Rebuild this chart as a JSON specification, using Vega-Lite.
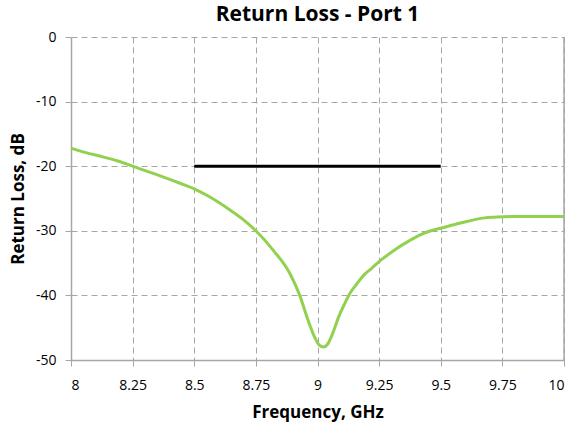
{
  "$schema": "https://vega.github.io/schema/vega-lite/v6.json",
  "width": 572,
  "height": 426,
  "autosize": {"type": "fit", "contains": "padding"},
  "padding": {"left": 9, "top": 4, "right": 2, "bottom": 6},
  "background": "white",
  "config": {
    "view": {"stroke": null},
    "font": "Open Sans",
    "axis": {
      "labelFont": "Open Sans",
      "labelFontSize": 14,
      "labelColor": "#000000",
      "titleFont": "Open Sans",
      "titleFontSize": 17,
      "titleFontWeight": "bold",
      "titleColor": "#000000",
      "domainColor": "#a6a6a6",
      "domainWidth": 1.5,
      "tickColor": "#a6a6a6",
      "tickSize": 6,
      "gridColor": "#a6a6a6",
      "gridDash": [6, 4],
      "gridWidth": 1
    }
  },
  "title": {
    "text": "Return Loss - Port 1",
    "font": "Open Sans",
    "fontSize": 21,
    "fontWeight": "bold",
    "color": "#000000",
    "offset": 5
  },
  "datasets": {
    "curve": [
      {"f": 8.0, "rl": -17.2},
      {"f": 8.06, "rl": -17.9},
      {"f": 8.124, "rl": -18.5},
      {"f": 8.19, "rl": -19.2},
      {"f": 8.25, "rl": -20.0},
      {"f": 8.31, "rl": -20.8},
      {"f": 8.37, "rl": -21.6},
      {"f": 8.44, "rl": -22.6},
      {"f": 8.5, "rl": -23.5},
      {"f": 8.56, "rl": -24.7},
      {"f": 8.642, "rl": -26.7},
      {"f": 8.7, "rl": -28.3},
      {"f": 8.75, "rl": -30.0},
      {"f": 8.82, "rl": -33.0},
      {"f": 8.888, "rl": -36.6},
      {"f": 8.928, "rl": -40.0},
      {"f": 8.962, "rl": -43.9},
      {"f": 8.99, "rl": -46.6},
      {"f": 9.005, "rl": -47.6},
      {"f": 9.024, "rl": -48.0},
      {"f": 9.04, "rl": -47.6},
      {"f": 9.055, "rl": -46.5},
      {"f": 9.07, "rl": -45.0},
      {"f": 9.085, "rl": -43.4},
      {"f": 9.11, "rl": -41.3},
      {"f": 9.133, "rl": -39.6},
      {"f": 9.16, "rl": -38.2},
      {"f": 9.187, "rl": -36.9},
      {"f": 9.22, "rl": -35.8},
      {"f": 9.249, "rl": -34.8},
      {"f": 9.29, "rl": -33.6},
      {"f": 9.323, "rl": -32.7},
      {"f": 9.37, "rl": -31.6},
      {"f": 9.419, "rl": -30.6},
      {"f": 9.46, "rl": -30.0},
      {"f": 9.5, "rl": -29.6},
      {"f": 9.58, "rl": -28.8},
      {"f": 9.678, "rl": -28.0},
      {"f": 9.72, "rl": -27.9},
      {"f": 9.787, "rl": -27.8},
      {"f": 9.9, "rl": -27.8},
      {"f": 10.0, "rl": -27.8}
    ],
    "spec": [
      {"f": 8.5, "rl": -20},
      {"f": 9.5, "rl": -20}
    ],
    "edge": [
      {"f": 10}
    ]
  },
  "layer": [
    {
      "data": {"name": "curve"},
      "mark": {"type": "line", "color": "#92d050", "strokeWidth": 3, "interpolate": "monotone"},
      "encoding": {
        "x": {
          "field": "f", "type": "quantitative",
          "scale": {"domain": [8, 10], "nice": false, "zero": false},
          "axis": {
            "title": "Frequency, GHz",
            "values": [8, 8.25, 8.5, 8.75, 9, 9.25, 9.5, 9.75, 10],
            "labelExpr": "datum.value + ''",
            "labelPadding": 12,
            "titlePadding": 12,
            "grid": true
          }
        },
        "y": {
          "field": "rl", "type": "quantitative",
          "scale": {"domain": [-50, 0], "nice": false, "zero": false},
          "axis": {
            "title": "Return Loss, dB",
            "values": [-50, -40, -30, -20, -10, 0],
            "labelExpr": "datum.value + ''",
            "labelPadding": 9,
            "titlePadding": 8,
            "grid": true
          }
        }
      }
    },
    {
      "data": {"name": "spec"},
      "mark": {"type": "line", "color": "#000000", "strokeWidth": 3},
      "encoding": {
        "x": {"field": "f", "type": "quantitative"},
        "y": {"field": "rl", "type": "quantitative"}
      }
    },
    {
      "data": {"name": "edge"},
      "mark": {"type": "rule", "color": "#a6a6a6", "strokeWidth": 1.5},
      "encoding": {
        "x": {"field": "f", "type": "quantitative"}
      }
    }
  ]
}
